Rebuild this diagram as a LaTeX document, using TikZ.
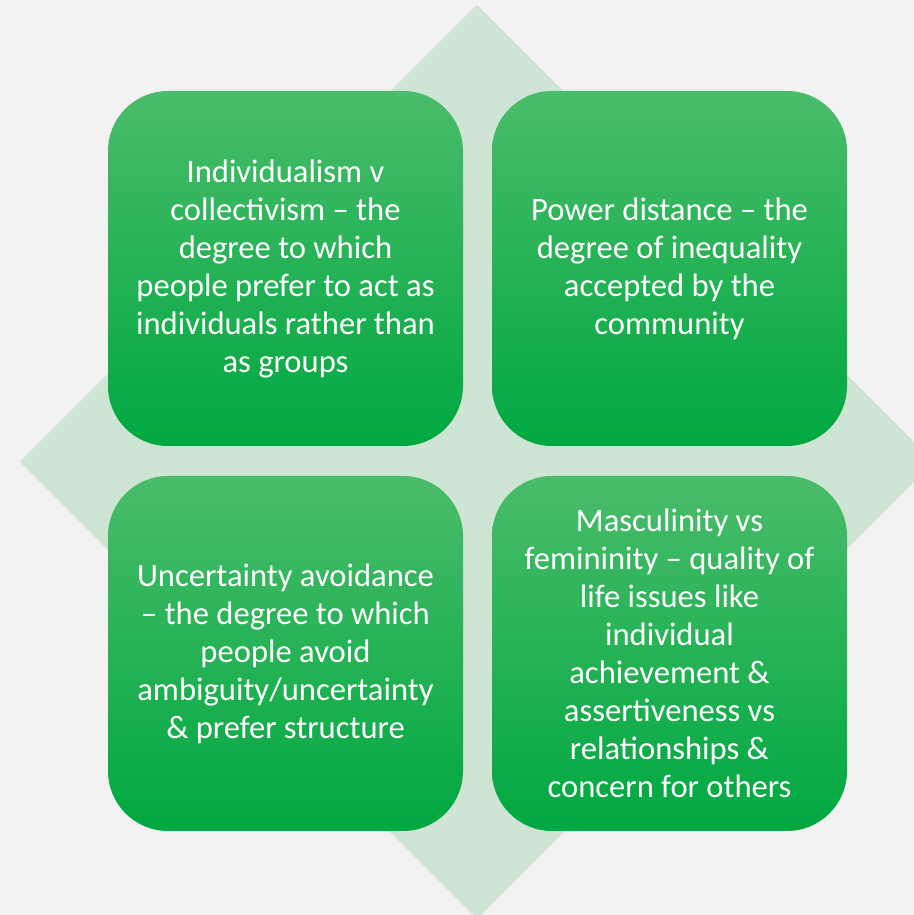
\documentclass[tikz,border=0pt]{standalone}
\usepackage{fontspec}
\setmainfont{Carlito}
\usepackage{tikz}
\usetikzlibrary{positioning}
\definecolor{pagegray}{RGB}{242,242,242}
\definecolor{diamondgreen}{RGB}{206,228,213}
\definecolor{boxtop}{RGB}{74,188,106}
\definecolor{boxbottom}{RGB}{0,168,64}
\tikzset{
  quadbox/.style={rectangle, rounded corners=30pt,
    minimum width=177.5pt, minimum height=177.5pt,
    top color=boxtop, bottom color=boxbottom, draw=none,
    text=white, align=center, inner sep=0pt,
    font=\fontsize{16.3}{19}\selectfont}
}

\begin{document}
\begin{tikzpicture}[x=0.5pt, y=0.5pt]
  % Page and backdrop
  \useasboundingbox (0,0) rectangle (914,915);
  \fill[pagegray] (0,0) rectangle (914,915);
  \begin{scope}
    \clip (0,0) rectangle (914,915);
    \fill[diamondgreen] (20,453) -- (477,910) -- (934,453) -- (477,-4) -- cycle;
  \end{scope}

  % Four quadrants
  \node[quadbox] (indiv) at (285.5, 646.5) {Individualism v\\collectivism -- the\\degree to which\\people prefer to act as\\individuals rather than\\as groups};
  \node[quadbox] (power) at (669.5, 646.5) {Power distance -- the\\degree of inequality\\accepted by the\\community};
  \node[quadbox] (uncert) at (285.5, 261.5) {Uncertainty avoidance\\-- the degree to which\\people avoid\\ambiguity/uncertainty\\\& prefer structure};
  \node[quadbox] (masc) at (669.5, 261.5) {Masculinity vs\\femininity -- quality of\\life issues like\\individual\\achievement \&\\assertiveness vs\\relationships \&\\concern for others};
\end{tikzpicture}
\end{document}
